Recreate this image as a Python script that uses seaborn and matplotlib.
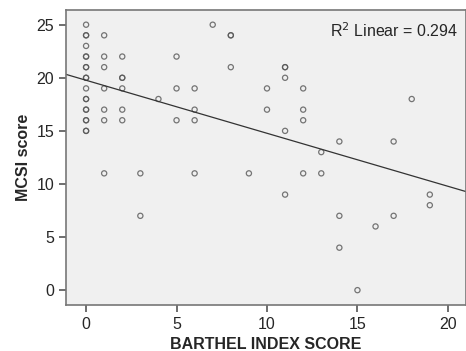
import numpy as np
import pandas as pd
import matplotlib
matplotlib.use("Agg")
import matplotlib.pyplot as plt
import seaborn as sns

# Barthel index vs MCSI score (duplicates = overlapping points)
barthel = [0]*19 + [1]*7 + [2]*6 + [3]*2 + [4] + [5]*3 + [6]*4 + [7] + [8]*3 + [9] \
    + [10]*2 + [11]*5 + [12]*4 + [13]*2 + [14]*3 + [15] + [16] + [17]*2 + [18] + [19]*2
mcsi = [25, 24, 24, 23, 22, 22, 21, 21, 20, 20, 19, 18, 18, 17, 17, 16, 16, 15, 15,
        24, 22, 21, 19, 17, 16, 11,
        22, 20, 20, 19, 17, 16,
        11, 7,
        18,
        22, 19, 16,
        19, 17, 16, 11,
        25,
        24, 24, 21,
        11,
        19, 17,
        21, 21, 20, 15, 9,
        19, 17, 16, 11,
        13, 11,
        14, 7, 4,
        0,
        6,
        14, 7,
        18,
        9, 8]

df = pd.DataFrame({"barthel": barthel, "mcsi": mcsi})

sns.set_style("ticks")
plt.rcParams["font.family"] = ["Liberation Sans", "DejaVu Sans"]

fig = plt.figure(figsize=(4.66, 3.51), dpi=100)
ax = fig.add_axes([0.142, 0.131, 0.858, 0.841])
ax.set_facecolor("#f0f0f0")
ax.set_xlim(-1.1, 21)
ax.set_ylim(-1.4, 26.4)

sns.regplot(data=df, x="barthel", y="mcsi", ci=None, ax=ax,
            scatter_kws=dict(s=14, facecolors="none", edgecolors="#555555", linewidths=0.9),
            line_kws=dict(color="#333333", lw=0.9), truncate=False)

ax.set_xlim(-1.1, 21)
ax.set_ylim(-1.4, 26.4)
ax.set_xticks([0, 5, 10, 15, 20])
ax.set_yticks([0, 5, 10, 15, 20, 25])
ax.tick_params(direction="out", length=5, width=1.2, color="#555555", labelsize=11.5)
for s in ax.spines.values():
    s.set_color("#777777")
    s.set_linewidth(1.2)

ax.set_xlabel("BARTHEL INDEX SCORE", fontsize=11.5, fontweight="bold")
ax.set_ylabel("MCSI score", fontsize=11.5, fontweight="bold")
ax.text(0.98, 0.93, r"R$^2$ Linear = 0.294", transform=ax.transAxes,
        ha="right", va="center", fontsize=11.5)

fig.savefig("out.png", dpi=100)
